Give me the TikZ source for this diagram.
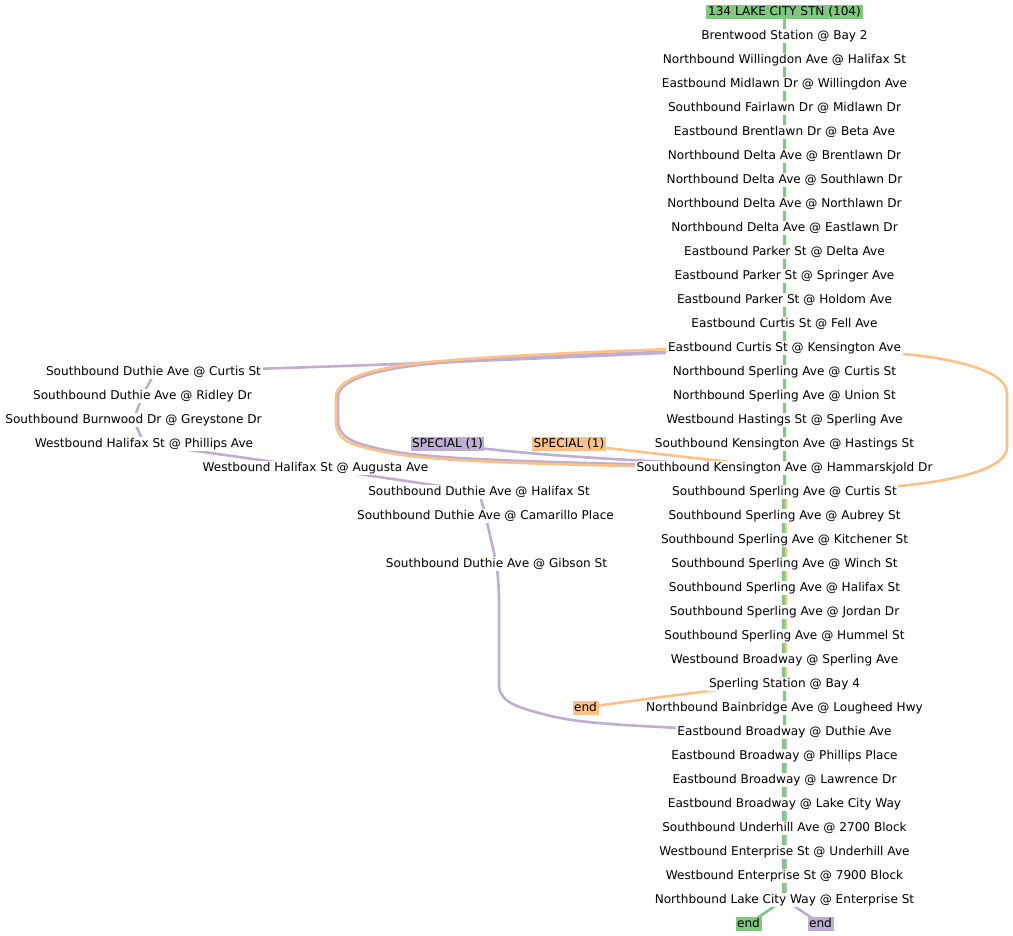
\documentclass[tikz,border=0pt]{standalone}
\usepackage{fontspec}
\setmainfont{DejaVu Sans}
\usepackage{xcolor}
\usetikzlibrary{backgrounds}
\definecolor{greenc}{HTML}{7FC97F}
\definecolor{purplec}{HTML}{BEAED4}
\definecolor{orangec}{HTML}{FDC086}

\begin{document}
\begin{tikzpicture}[
  x=1pt, y=-1pt,
  font=\fontsize{12.1}{14}\selectfont,
  st/.style  ={fill=white, yshift=-0.7pt, inner xsep=1.6pt, inner ysep=0.7pt, text height=10pt, text depth=2.6pt},
  stg/.style ={st, fill=greenc},
  stp/.style ={st, fill=purplec},
  sto/.style ={st, fill=orangec},
  eg/.style  ={greenc, line width=2.6pt},
  ep/.style  ={purplec, line width=2.6pt},
  eo/.style  ={orangec, line width=2.6pt}
]
\useasboundingbox (0,0) rectangle (1013,936);
% ---------- main column ----------
\node[stg] (title)    at (784.5,11)  {134 LAKE CITY STN (104)};
\node[st]  (brent)    at (784.5,35)  {Brentwood Station @ Bay 2};
\node[st]  (willing)  at (784.5,59)  {Northbound Willingdon Ave @ Halifax St};
\node[st]  (midlawn)  at (784.5,83)  {Eastbound Midlawn Dr @ Willingdon Ave};
\node[st]  (fairlawn) at (784.5,107) {Southbound Fairlawn Dr @ Midlawn Dr};
\node[st]  (brentl)   at (784.5,131) {Eastbound Brentlawn Dr @ Beta Ave};
\node[st]  (deltab)   at (784.5,155) {Northbound Delta Ave @ Brentlawn Dr};
\node[st]  (deltas)   at (784.5,179) {Northbound Delta Ave @ Southlawn Dr};
\node[st]  (deltan)   at (784.5,203) {Northbound Delta Ave @ Northlawn Dr};
\node[st]  (deltae)   at (784.5,227) {Northbound Delta Ave @ Eastlawn Dr};
\node[st]  (parkerd)  at (784.5,251) {Eastbound Parker St @ Delta Ave};
\node[st]  (parkers)  at (784.5,275) {Eastbound Parker St @ Springer Ave};
\node[st]  (parkerh)  at (784.5,299) {Eastbound Parker St @ Holdom Ave};
\node[st]  (curtisf)  at (784.5,323) {Eastbound Curtis St @ Fell Ave};
\node[st]  (curtisk)  at (784.5,347) {Eastbound Curtis St @ Kensington Ave};
\node[st]  (sperc)    at (784.5,371) {Northbound Sperling Ave @ Curtis St};
\node[st]  (speru)    at (784.5,395) {Northbound Sperling Ave @ Union St};
\node[st]  (hasts)    at (784.5,419) {Westbound Hastings St @ Sperling Ave};
\node[st]  (kenh)     at (784.5,443) {Southbound Kensington Ave @ Hastings St};
\node[st]  (kenham)   at (784.5,467) {Southbound Kensington Ave @ Hammarskjold Dr};
\node[st]  (spercs)   at (784.5,491) {Southbound Sperling Ave @ Curtis St};
\node[st]  (aubrey)   at (784.5,515) {Southbound Sperling Ave @ Aubrey St};
\node[st]  (kitch)    at (784.5,539) {Southbound Sperling Ave @ Kitchener St};
\node[st]  (winch)    at (784.5,563) {Southbound Sperling Ave @ Winch St};
\node[st]  (halif)    at (784.5,587) {Southbound Sperling Ave @ Halifax St};
\node[st]  (jordan)   at (784.5,611) {Southbound Sperling Ave @ Jordan Dr};
\node[st]  (hummel)   at (784.5,635) {Southbound Sperling Ave @ Hummel St};
\node[st]  (bwsper)   at (784.5,659) {Westbound Broadway @ Sperling Ave};
\node[st]  (sperst)   at (784.5,683) {Sperling Station @ Bay 4};
\node[st]  (bain)     at (784.5,707) {Northbound Bainbridge Ave @ Lougheed Hwy};
\node[st]  (bwduth)   at (784.5,731) {Eastbound Broadway @ Duthie Ave};
\node[st]  (bwphil)   at (784.5,755) {Eastbound Broadway @ Phillips Place};
\node[st]  (bwlaw)    at (784.5,779) {Eastbound Broadway @ Lawrence Dr};
\node[st]  (bwlake)   at (784.5,803) {Eastbound Broadway @ Lake City Way};
\node[st]  (under)    at (784.5,827) {Southbound Underhill Ave @ 2700 Block};
\node[st]  (entund)   at (784.5,851) {Westbound Enterprise St @ Underhill Ave};
\node[st]  (ent79)    at (784.5,875) {Westbound Enterprise St @ 7900 Block};
\node[st]  (lakeent)  at (784.5,899) {Northbound Lake City Way @ Enterprise St};
\node[stg] (endg)     at (748.5,923) {end};
\node[stp] (endp)     at (820.5,923) {end};
% ---------- side branch ----------
\node[st]  (dcurtis)  at (153.5,371) {Southbound Duthie Ave @ Curtis St};
\node[st]  (dridley)  at (142.5,395) {Southbound Duthie Ave @ Ridley Dr};
\node[st]  (burnw)    at (133.5,419) {Southbound Burnwood Dr @ Greystone Dr};
\node[st]  (phill)    at (144,443)   {Westbound Halifax St @ Phillips Ave};
\node[st]  (augusta)  at (315.5,467) {Westbound Halifax St @ Augusta Ave};
\node[st]  (dhalif)   at (479,491)   {Southbound Duthie Ave @ Halifax St};
\node[st]  (camar)    at (485.5,515) {Southbound Duthie Ave @ Camarillo Place};
\node[st]  (gibson)   at (496.5,563) {Southbound Duthie Ave @ Gibson St};
\node[stp] (specp)    at (447.5,443) {SPECIAL (1)};
\node[sto] (speco)    at (569,443)   {SPECIAL (1)};
\node[sto] (endo)     at (585.5,707) {end};

\begin{scope}[on background layer]
% ---------- green run ----------
\draw[eg] (title.center) -- (brent.center);
\draw[eg] (brent.center) -- (willing.center);
\draw[eg] (willing.center) -- (midlawn.center);
\draw[eg] (midlawn.center) -- (fairlawn.center);
\draw[eg] (fairlawn.center) -- (brentl.center);
\draw[eg] (brentl.center) -- (deltab.center);
\draw[eg] (deltab.center) -- (deltas.center);
\draw[eg] (deltas.center) -- (deltan.center);
\draw[eg] (deltan.center) -- (deltae.center);
\draw[eg] (deltae.center) -- (parkerd.center);
\draw[eg] (parkerd.center) -- (parkers.center);
\draw[eg] (parkers.center) -- (parkerh.center);
\draw[eg] (parkerh.center) -- (curtisf.center);
\draw[eg] (curtisf.center) -- (curtisk.center);
\draw[eg] (curtisk.center) -- (sperc.center);
\draw[eg] (sperc.center) -- (speru.center);
\draw[eg] (speru.center) -- (hasts.center);
\draw[eg] (hasts.center) -- (kenh.center);
\draw[eg] (kenh.center) -- (kenham.center);
\draw[eg] (kenham.center) -- (spercs.center);
\draw[eg] ([xshift=-1.3pt]spercs.center) -- ([xshift=-1.3pt]aubrey.center);
\draw[eg] ([xshift=-1.3pt]aubrey.center) -- ([xshift=-1.3pt]kitch.center);
\draw[eg] ([xshift=-1.3pt]kitch.center) -- ([xshift=-1.3pt]winch.center);
\draw[eg] ([xshift=-1.3pt]winch.center) -- ([xshift=-1.3pt]halif.center);
\draw[eg] ([xshift=-1.3pt]halif.center) -- ([xshift=-1.3pt]jordan.center);
\draw[eg] ([xshift=-1.3pt]jordan.center) -- ([xshift=-1.3pt]hummel.center);
\draw[eg] ([xshift=-1.3pt]hummel.center) -- ([xshift=-1.3pt]bwsper.center);
\draw[eg] ([xshift=-1.3pt]bwsper.center) -- ([xshift=-1.3pt]sperst.center);
\draw[eg] (sperst.center) -- (bain.center);
\draw[eg] (bain.center) -- (bwduth.center);
\draw[eg] ([xshift=-1.3pt]bwduth.center) -- ([xshift=-1.3pt]bwphil.center);
\draw[eg] ([xshift=-1.3pt]bwphil.center) -- ([xshift=-1.3pt]bwlaw.center);
\draw[eg] ([xshift=-1.3pt]bwlaw.center) -- ([xshift=-1.3pt]bwlake.center);
\draw[eg] ([xshift=-1.3pt]bwlake.center) -- ([xshift=-1.3pt]under.center);
\draw[eg] ([xshift=-1.3pt]under.center) -- ([xshift=-1.3pt]entund.center);
\draw[eg] ([xshift=-1.3pt]entund.center) -- ([xshift=-1.3pt]ent79.center);
\draw[eg] ([xshift=-1.3pt]ent79.center) -- ([xshift=-1.3pt]lakeent.center);
\draw[eg] (lakeent.center) -- (endg.center);
% ---------- purple run ----------
\draw[ep] (specp.center) .. controls (540,458) and (680,462) .. (kenham.center);
\draw[ep] (kenham.center) .. controls (620,464) and (520,462) .. (450,457.5)
  .. controls (400,454) and (380,450) .. (358,443)
  .. controls (344,438) and (338,431) .. (338,420) -- (338,397)
  .. controls (338,378) and (385,368) .. (433,363.5)
  .. controls (520,356) and (650,352) .. ([yshift=-0.8pt]curtisk.center);
\draw[ep] (curtisk.center) .. controls (550,358) and (350,367) .. (dcurtis.center);
\draw[ep] (dcurtis.center) .. controls (154,376) and (146,388) .. (dridley.center);
\draw[ep] (dridley.center) -- (burnw.center);
\draw[ep] (burnw.center) -- (phill.center);
\draw[ep] (phill.center) -- (augusta.center);
\draw[ep] (augusta.center) -- (dhalif.center);
\draw[ep] (dhalif.center) -- (camar.center);
\draw[ep] (camar.center) -- (gibson.center);
\draw[ep] (gibson.center) .. controls (498,578) and (499,588) .. (499,600) -- (499,686)
  .. controls (500,703) and (520,708) .. (546.7,715)
  .. controls (580,724) and (640,727) .. (bwduth.center);
\draw[ep] ([xshift=1.3pt]bwduth.center) -- ([xshift=1.3pt]bwphil.center);
\draw[ep] ([xshift=1.3pt]bwphil.center) -- ([xshift=1.3pt]bwlaw.center);
\draw[ep] ([xshift=1.3pt]bwlaw.center) -- ([xshift=1.3pt]bwlake.center);
\draw[ep] ([xshift=1.3pt]bwlake.center) -- ([xshift=1.3pt]under.center);
\draw[ep] ([xshift=1.3pt]under.center) -- ([xshift=1.3pt]entund.center);
\draw[ep] ([xshift=1.3pt]entund.center) -- ([xshift=1.3pt]ent79.center);
\draw[ep] ([xshift=1.3pt]ent79.center) -- ([xshift=1.3pt]lakeent.center);
\draw[ep] (lakeent.center) -- (endp.center);
% ---------- orange run ----------
\draw[eo] (speco.center) -- ([yshift=-0.6pt]kenham.center);
\draw[eo] ([yshift=-1.3pt]kenham.center) .. controls (620,466) and (520,464) .. (450,459.5)
  .. controls (400,456) and (380,452) .. (356,445)
  .. controls (342,441) and (336,433) .. (336,422) -- (336,397)
  .. controls (336,376) and (385,366) .. (433,361.7)
  .. controls (520,354) and (650,349.5) .. ([yshift=2.5pt]curtisk.center);
\draw[eo] (curtisk.center) -- (903,354) .. controls (950,358) and (1007,370) .. (1007,393)
  -- (1007,447) .. controls (1007,470) and (950,481) .. (900,486) -- (spercs.center);
\draw[eo] ([xshift=1.3pt]spercs.center) -- ([xshift=1.3pt]aubrey.center);
\draw[eo] ([xshift=1.3pt]aubrey.center) -- ([xshift=1.3pt]kitch.center);
\draw[eo] ([xshift=1.3pt]kitch.center) -- ([xshift=1.3pt]winch.center);
\draw[eo] ([xshift=1.3pt]winch.center) -- ([xshift=1.3pt]halif.center);
\draw[eo] ([xshift=1.3pt]halif.center) -- ([xshift=1.3pt]jordan.center);
\draw[eo] ([xshift=1.3pt]jordan.center) -- ([xshift=1.3pt]hummel.center);
\draw[eo] ([xshift=1.3pt]hummel.center) -- ([xshift=1.3pt]bwsper.center);
\draw[eo] ([xshift=1.3pt]bwsper.center) -- ([xshift=1.3pt]sperst.center);
\draw[eo] ([yshift=2pt]sperst.center) .. controls (700,692) and (620,702) .. (endo.center);
\end{scope}
\end{tikzpicture}
\end{document}
